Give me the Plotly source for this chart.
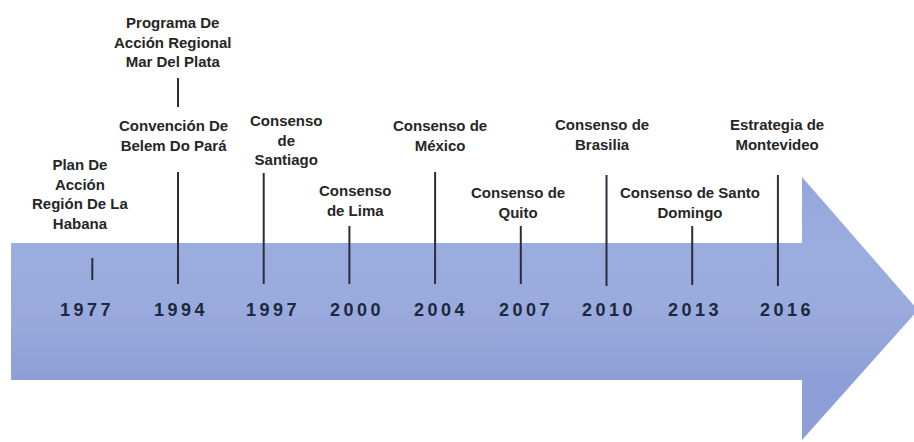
import plotly.graph_objects as go

# ---- data ----
years = ["1977", "1994", "1997", "2000", "2004", "2007", "2010", "2013", "2016"]
events = [
    "Plan De<br>Acción<br>Región De La<br>Habana",
    "Convención De<br>Belem Do Pará",
    "Consenso<br>de<br>Santiago",
    "Consenso<br>de Lima",
    "Consenso de<br>México",
    "Consenso de<br>Quito",
    "Consenso de<br>Brasilia",
    "Consenso de Santo<br>Domingo",
    "Estrategia de<br>Montevideo",
]
extra_year = "1994"
extra_event = "Programa De<br>Acción Regional<br>Mar Del Plata"

# ---- layout (pixel-like vertical placement, y axis reversed) ----
label_y = [194, 135, 140, 200, 135, 202, 134, 202, 134]
label_nudge = [-12, -5, 23, 6, 5, -3, -5, -2, -1]
year_nudge = [-6, 2, 8, 7, 5, 4, 1, 2, 8]
line_top = [258, 172, 173, 226, 172, 226, 175, 226, 175]
line_bottom = [280, 284, 284, 284, 284, 284, 286, 285, 286]
year_y = 310
extra_label_y = 42
extra_line = (78, 107)

W, H = 914, 442
fig = go.Figure()

# arrow (decoration) on base axes in pixel units (drawn beneath)
ax = [11, 802, 802, 918, 802, 802, 11, 11]
ay = [243, 243, 177, 310, 440, 380, 380, 243]
fig.add_trace(go.Scatter(
    x=ax, y=ay, mode="lines", fill="toself",
    line=dict(width=0, color="rgba(0,0,0,0)"),
    fillgradient=dict(type="vertical",
                      colorscale=[[0, "#8d9ed7"], [0.22, "#8e9fd7"], [0.5, "#9aaadd"],
                                  [0.75, "#9badde"], [1, "#95a5db"]]),
    hoverinfo="skip", showlegend=False,
))

line_color = "#2a2d3c"
for i, yr in enumerate(years):
    fig.add_trace(go.Scatter(
        x=[yr, yr], y=[line_top[i], line_bottom[i]], mode="lines", xaxis="x2", yaxis="y2",
        line=dict(color=line_color, width=2), hoverinfo="skip", showlegend=False,
    ))
fig.add_trace(go.Scatter(
    x=[extra_year, extra_year], y=list(extra_line), mode="lines", xaxis="x2", yaxis="y2",
    line=dict(color=line_color, width=2), hoverinfo="skip", showlegend=False,
))

year_font = dict(family="Liberation Sans", size=18, color="#1e2740", weight="bold")
for i, yr in enumerate(years):
    fig.add_annotation(x=i, y=year_y, xref="x2", yref="y2", xshift=year_nudge[i] + 1,
                       text=f'<span style="letter-spacing:3.5px">{yr}</span>', showarrow=False,
                       font=year_font, xanchor="center", yanchor="middle")

lab_font = dict(family="Liberation Sans", size=15, color="#262626", weight="bold")
for i, yr in enumerate(years):
    fig.add_annotation(x=i, y=label_y[i], xref="x2", yref="y2", xshift=label_nudge[i],
                       text=events[i], showarrow=False,
                       font=lab_font, align="center", xanchor="center", yanchor="middle")
fig.add_annotation(x=years.index(extra_year), y=extra_label_y, xref="x2", yref="y2",
                   xshift=label_nudge[years.index(extra_year)],
                   text=extra_event, showarrow=False,
                   font=lab_font, align="center", xanchor="center", yanchor="middle")

fig.update_layout(
    width=W, height=H, margin=dict(l=0, r=0, t=0, b=0),
    paper_bgcolor="white", plot_bgcolor="white",
    xaxis=dict(range=[0, W], visible=False, fixedrange=True),
    yaxis=dict(range=[H, 0], visible=False, fixedrange=True),
    xaxis2=dict(type="category", categoryorder="array", categoryarray=years, overlaying="x",
                range=[-1.077, 9.588], visible=False, fixedrange=True),
    yaxis2=dict(range=[H, 0], overlaying="y", visible=False, fixedrange=True),
)
fig.write_html("out.html", config={"displayModeBar": False},
               post_script="document.body.style.margin='0';")
